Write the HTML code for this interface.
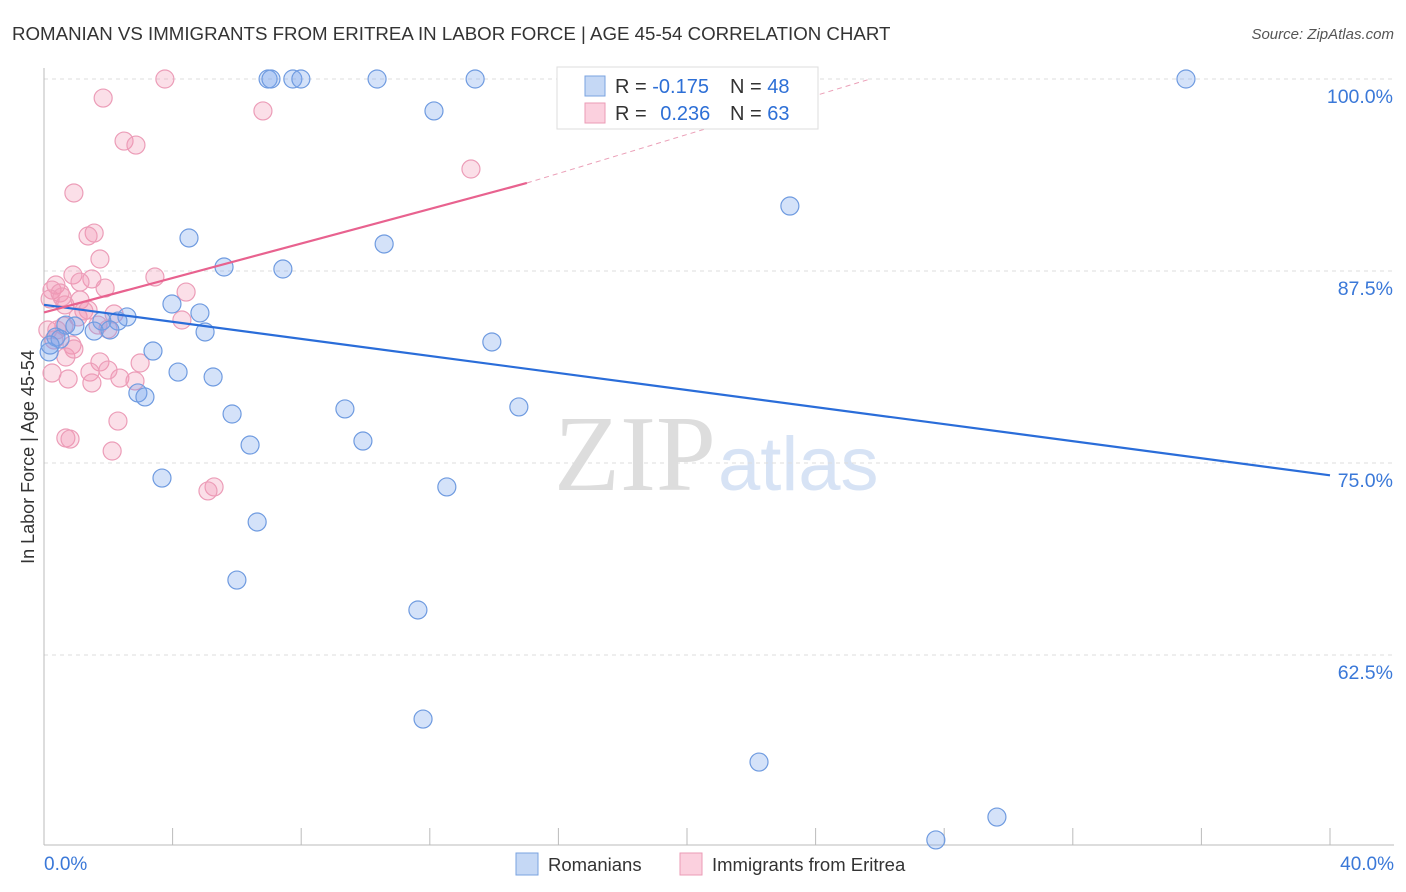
<!DOCTYPE html>
<html><head><meta charset="utf-8"><style>
body{margin:0;background:#fff;font-family:"Liberation Sans",sans-serif}
svg{display:block}
</style></head><body>
<svg id="c" width="1406" height="892">
<text x="12" y="40" font-size="18.7" fill="#333">ROMANIAN VS IMMIGRANTS FROM ERITREA IN LABOR FORCE | AGE 45-54 CORRELATION CHART</text>
<text x="1394" y="39" font-size="15" fill="#555" text-anchor="end" font-style="italic">Source: ZipAtlas.com</text>
<text x="716" y="490" font-size="108" fill="#ddd" text-anchor="end" font-family="Liberation Serif">ZIP</text>
<text x="718" y="490" font-size="76" fill="#d7e3f5">atlas</text>
<text transform="translate(34,457) rotate(-90)" font-size="18" fill="#333" text-anchor="middle">In Labor Force | Age 45-54</text>
<g id="grid"></g><g id="ticks"></g><g id="pts"></g><g id="trend"></g>
<g>
<rect x="557" y="67" width="261" height="62" fill="#fff" stroke="#ddd"/>
<rect x="585" y="76" width="20" height="20" fill="#c5d8f5" stroke="#7aa3e0"/>
<rect x="585" y="103" width="20" height="20" fill="#fbd0de" stroke="#eb9bb6"/>
<text x="615" y="93" font-size="20" fill="#333">R = <tspan fill="#2d6fd6">-0.175</tspan></text>
<text x="730" y="93" font-size="20" fill="#333">N = <tspan fill="#2d6fd6">48</tspan></text>
<text x="615" y="120" font-size="20" fill="#333">R = <tspan fill="#2d6fd6" dx="8">0.236</tspan></text>
<text x="730" y="120" font-size="20" fill="#333">N = <tspan fill="#2d6fd6">63</tspan></text>
</g>
<g>
<rect x="516" y="853" width="22" height="22" fill="#c5d8f5" stroke="#7aa3e0"/>
<text x="548" y="871" font-size="18.5" fill="#333">Romanians</text>
<rect x="680" y="853" width="22" height="22" fill="#fbd0de" stroke="#eb9bb6"/>
<text x="712" y="871" font-size="18.5" fill="#333">Immigrants from Eritrea</text>
</g>
</svg>
<script>
const yTicks=[100,87.5,75,62.5];
const yTickLabels=["100.0%","87.5%","75.0%","62.5%"];
const xTickLabels=["0.0%","40.0%"];
const blueX=[6.97,7.06,7.74,7.99,10.36,13.41,16.45,35.52,12.13,23.20,4.51,10.58,5.60,7.43,3.98,4.85,2.58,2.30,1.80,0.68,0.96,1.56,2.05,5.01,0.37,0.50,0.16,13.93,3.39,4.17,5.26,2.92,3.14,9.36,14.77,5.85,9.92,6.41,3.67,12.53,6.63,6.00,11.63,11.79,22.24,29.64,27.74,0.19];
const blueY=[100,100,100,100,100,100,100,100,97.92,91.73,89.65,89.26,87.76,87.63,85.35,84.77,84.51,84.24,84.24,83.98,83.92,83.59,83.66,83.53,83.20,83.07,82.23,82.88,82.29,80.92,80.60,79.56,79.30,78.52,78.65,78.19,76.43,76.17,74.02,73.44,71.16,67.38,65.43,58.33,55.53,51.95,50.46,82.68];
const pinkX=[3.76,6.81,1.84,2.49,2.86,13.28,0.93,1.56,1.37,1.74,3.45,0.90,1.49,1.12,0.37,0.25,0.50,1.90,4.42,0.19,1.12,0.65,2.18,1.24,1.06,1.68,0.62,1.99,0.12,0.31,0.87,1.74,0.68,2.99,2.36,1.43,1.99,0.25,0.75,1.49,2.83,2.30,0.68,0.81,2.12,5.29,5.10,4.29,0.93,0.40,0.56,1.37];
const pinkY=[100,97.92,98.76,95.96,95.70,94.14,92.58,89.97,89.78,88.28,87.11,87.24,86.98,86.78,86.59,86.26,86.07,86.39,86.13,85.68,85.61,85.29,84.70,84.90,84.51,83.98,83.92,83.72,83.66,83.01,82.68,81.58,81.90,81.51,80.53,80.92,81.05,80.86,80.47,80.21,80.34,77.73,76.63,76.56,75.78,73.44,73.18,84.31,82.42,83.66,85.81,84.96];
const blueTrendX=[0,40], blueTrendY=[85.3,74.2];
const pinkTrendX=[0,15.02,25.7], pinkTrendY=[84.8,93.23,100];
const X=v=>44+v*32.15, Y=v=>79+(100-v)*15.36;
const NS="http://www.w3.org/2000/svg";
function mk(tag,attrs,parent,txt){const e=document.createElementNS(NS,tag);for(const k in attrs)e.setAttribute(k,attrs[k]);if(txt!==undefined)e.textContent=txt;document.getElementById(parent).appendChild(e);return e;}
yTicks.forEach((t,i)=>{
 const g=mk('line',{x1:44,x2:1394,y1:Y(t),y2:Y(t),stroke:'#ddd','stroke-dasharray':'4,4'},'grid');
 
 
 const l=mk('text',{x:1393,y:Y(t)+24,'font-size':19.5,fill:'#3a78d8','text-anchor':'end'},'grid',yTickLabels[i]);
 
 
});
const ax=mk('line',{x1:44,x2:44,y1:68,y2:845,stroke:'#bbb'},'ticks');


const bx=mk('line',{x1:44,x2:1394,y1:845,y2:845,stroke:'#bbb'},'ticks');


for(let i=1;i<=10;i++){const t=mk('line',{x1:X(i*4),x2:X(i*4),y1:828,y2:845,stroke:'#bbb'},'ticks');
 
 }
[[0,'start'],[40,'end']].forEach((p,i)=>{const t=mk('text',{x:i?1394:44,y:870,'font-size':19,fill:'#3a78d8','text-anchor':p[1]},'ticks',xTickLabels[i]);
 
 });
pinkX.forEach((v,i)=>{const c=mk('circle',{cx:X(v),cy:Y(pinkY[i]),r:9,fill:'rgba(242,150,180,0.3)',stroke:'#ec9db8','stroke-width':1.2},'pts');
 
 });
blueX.forEach((v,i)=>{const c=mk('circle',{cx:X(v),cy:Y(blueY[i]),r:9,fill:'rgba(120,165,235,0.32)',stroke:'#6f9be0','stroke-width':1.2},'pts');
 
 });
const bl=mk('line',{x1:X(blueTrendX[0]),y1:Y(blueTrendY[0]),x2:X(blueTrendX[1]),y2:Y(blueTrendY[1]),stroke:'#2a6dd9','stroke-width':2.2},'trend');


const pl=mk('line',{x1:X(pinkTrendX[0]),y1:Y(pinkTrendY[0]),x2:X(pinkTrendX[1]),y2:Y(pinkTrendY[1]),stroke:'#e8628f','stroke-width':2.2},'trend');


const pd=mk('line',{x1:X(pinkTrendX[1]),y1:Y(pinkTrendY[1]),x2:X(pinkTrendX[2]),y2:Y(pinkTrendY[2]),stroke:'#eba0b8','stroke-width':1,'stroke-dasharray':'5,4'},'trend');


</script>
</body></html>
